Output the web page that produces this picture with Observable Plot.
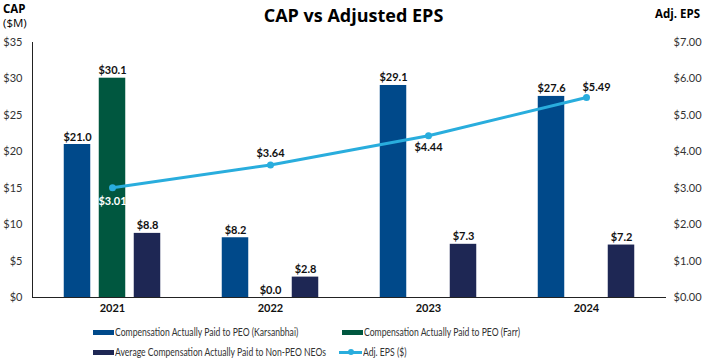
<!DOCTYPE html>
<html>
<head>
<meta charset="utf-8">
<script src="https://cdn.jsdelivr.net/npm/d3@7"></script>
<script src="https://cdn.jsdelivr.net/npm/@observablehq/plot@0.6"></script>
<style>
  html, body { margin: 0; padding: 0; background: #fff; }
  #wrap { position: relative; width: 707px; height: 362px; font-family: Lato, "Open Sans", sans-serif; color: #000; }
  .abs { position: absolute; white-space: nowrap; }
  #title { left: 0; width: 707px; top: 3px; text-align: center; font-family: "Open Sans", sans-serif; font-weight: 700; font-size: 18px; }
  #capl { left: 3px; top: 2px; font-family: "Open Sans", sans-serif; font-size: 11.5px; line-height: 14px; }
  #epsl { right: 7px; top: 6px; font-family: "Open Sans", sans-serif; font-weight: 700; font-size: 11.5px; }
  .leg { position: absolute; font-family: Lato, sans-serif; font-size: 10.5px; color: #333; display: flex; align-items: center; white-space: nowrap; }
  .leg .t { display: inline-block; transform: scaleX(0.82); transform-origin: 0 50%; }
  .sw { display: inline-block; width: 21px; height: 5px; margin-right: 1px; }
  .lsw { position: relative; display: inline-block; width: 23px; height: 3px; margin-right: 1px; }
  .lsw i { position: absolute; left: 9px; top: -2px; width: 6px; height: 6px; border-radius: 50%; }
</style>
</head>
<body>
<div id="wrap">
  <div id="chart" class="abs" style="left:0;top:0"></div>
  <div id="title" class="abs">CAP vs Adjusted EPS</div>
  <div id="capl" class="abs"><b>CAP</b><br>($M)</div>
  <div id="epsl" class="abs">Adj. EPS</div>
  <div id="legend"></div>
</div>
<script>
const years = ["2021", "2022", "2023", "2024"];
const karsanbhai = [21.0, 8.2, 29.1, 27.6];
const farr = [30.1, 0.0, null, null];
const neo = [8.8, 2.8, 7.3, 7.2];
const eps = [3.01, 3.64, 4.44, 5.49];
const capTicks = [0, 5, 10, 15, 20, 25, 30, 35];
const epsTicks = [0, 1, 2, 3, 4, 5, 6, 7];
const seriesNames = [
  "Compensation Actually Paid to PEO (Karsanbhai)",
  "Compensation Actually Paid to PEO (Farr)",
  "Average Compensation Actually Paid to Non-PEO NEOs",
  "Adj. EPS ($)"
];
const colors = ["#00498A", "#00573F", "#1E2754", "#29ADDD"];

const capMax = 35, epsMax = 7, ratio = capMax / epsMax;

const rows = (vals) => years.map((y, i) => ({year: y, v: vals[i]})).filter(d => d.v != null);
const kData = rows(karsanbhai), fData = rows(farr), nData = rows(neo);
const eData = years.map((y, i) => ({year: y, eps: eps[i], y: eps[i] * ratio, i}));

const fmt1 = d => "$" + d.v.toFixed(1);
const fmtE = d => "$" + d.eps.toFixed(2);
const inset = (158.5 - 27) / 2;
const labelFont = {fontSize: 11, fontWeight: 700, fill: "#111", lineAnchor: "bottom"};

const barSet = (data, color, dx) => [
  Plot.barY(data, {x: "year", y: "v", fill: color, insetLeft: inset, insetRight: inset, dx}),
  Plot.text(data, {x: "year", y: "v", text: fmt1, dx, dy: -4, ...labelFont})
];

const chart = Plot.plot({
  width: 707,
  height: 318,
  marginLeft: 32,
  marginRight: 41,
  marginTop: 42,
  marginBottom: 21,
  style: {fontFamily: "Lato, 'Open Sans', sans-serif", background: "transparent"},
  x: {domain: years, padding: 0, axis: null},
  y: {domain: [0, capMax], axis: null},
  marks: [
    ...barSet(kData, colors[0], -35),
    ...barSet(fData, colors[1], 0),
    ...barSet(nData, colors[2], 35),
    Plot.ruleY([0], {stroke: "#222", strokeWidth: 1}),
    Plot.frame({anchor: "left", stroke: "#222", strokeWidth: 1}),
    Plot.axisY(capTicks, {anchor: "left", label: null, tickSize: 0, tickPadding: 10, tickFormat: d => "$" + d, fontSize: 11, fill: "#333"}),
    Plot.axisY(capTicks, {anchor: "right", label: null, tickSize: 0, tickPadding: 7, tickFormat: d => "$" + (d / ratio).toFixed(2), fontSize: 11, fill: "#333"}),
    Plot.axisX(years, {anchor: "bottom", label: null, tickSize: 0, tickPadding: 7, fontSize: 11, fontWeight: 700, fill: "#111"}),
    Plot.line(eData, {x: "year", y: "y", stroke: colors[3], strokeWidth: 3}),
    Plot.dot(eData, {x: "year", y: "y", r: 3.5, fill: colors[3]}),
    Plot.text(eData.filter(d => d.i === 0), {x: "year", y: "y", text: fmtE, dy: 14, fontSize: 11, fontWeight: 700, fill: "#fff"}),
    Plot.text(eData.filter(d => d.i === 1), {x: "year", y: "y", text: fmtE, dy: -11, fontSize: 11, fontWeight: 700, fill: "#111"}),
    Plot.text(eData.filter(d => d.i === 2), {x: "year", y: "y", text: fmtE, dy: 12, fontSize: 11, fontWeight: 700, fill: "#111"}),
    Plot.text(eData.filter(d => d.i === 3), {x: "year", y: "y", text: fmtE, dx: 10, dy: -10, fontSize: 11, fontWeight: 700, fill: "#111"})
  ]
});
document.getElementById("chart").appendChild(chart);

// legend
const legend = document.getElementById("legend");
const pos = [[93, 326], [342, 326], [93, 346], [339, 346]];
seriesNames.forEach((name, i) => {
  const el = document.createElement("div");
  el.className = "leg";
  el.style.left = pos[i][0] + "px";
  el.style.top = pos[i][1] + "px";
  el.style.height = "12px";
  if (i < 3) {
    el.innerHTML = `<span class="sw" style="background:${colors[i]}"></span><span class="t">${name}</span>`;
  } else {
    el.innerHTML = `<span class="lsw" style="background:${colors[i]}"><i style="background:${colors[i]}"></i></span><span class="t">${name}</span>`;
  }
  legend.appendChild(el);
});
</script>
</body>
</html>
